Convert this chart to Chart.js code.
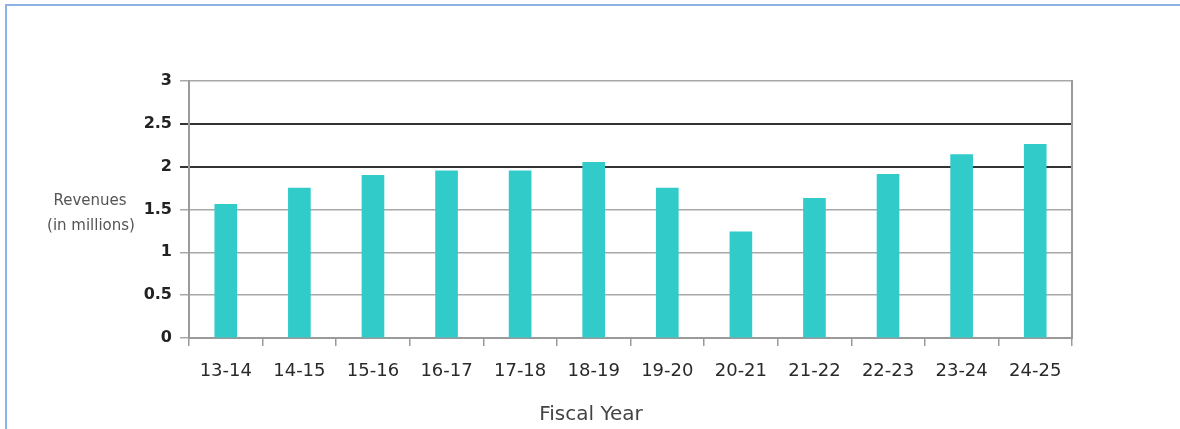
<!DOCTYPE html>
<html>
<head>
<meta charset="utf-8">
<script src="https://cdn.jsdelivr.net/npm/chart.js@4/dist/chart.umd.min.js"></script>
<style>
    body { margin: 0; background: #fff; }
    #wrap { position: relative; width: 1180px; height: 429px; overflow: hidden; }
    #frame {
        position: absolute; left: 5px; top: 4px; width: 1300px; height: 600px;
        border-top: 2px solid #8db3e2; border-left: 2px solid #8db3e2;
    }
    #revChart { position: absolute; left: 0; top: 0; }
</style>
</head>
<body>
<div id="wrap">
    <div id="frame"></div>
    <canvas id="revChart" width="1180" height="429"></canvas>
</div>
<script>
const fiscalYears = ["13-14", "14-15", "15-16", "16-17", "17-18", "18-19", "19-20", "20-21", "21-22", "22-23", "23-24", "24-25"];
const revenues = [1.56, 1.75, 1.90, 1.95, 1.95, 2.05, 1.75, 1.24, 1.63, 1.91, 2.14, 2.26];
const yTicks = [0, 0.5, 1, 1.5, 2, 2.5, 3];
const darkGridValues = [2, 2.5];

const fontFamily = "'DejaVu Sans', sans-serif";
const barColor = "#31cbca";
const axisGray = "#9a9a9a";

const axisTitles = {
    id: "axisTitles",
    afterDraw(chart) {
        const ctx = chart.ctx;
        ctx.save();
        ctx.textAlign = "center";
        ctx.textBaseline = "middle";
        ctx.fillStyle = "#555";
        ctx.font = "15px " + fontFamily;
        ctx.fillText("Revenues", 90, 201);
        ctx.fillText("(in millions)", 91, 226);
        ctx.fillStyle = "#444";
        ctx.font = "20px " + fontFamily;
        ctx.fillText("Fiscal Year", 591, 415);
        ctx.restore();
    },
};

new Chart(document.getElementById("revChart"), {
    type: "bar",
    data: {
        labels: fiscalYears,
        datasets: [
            {
                label: "Revenues",
                data: revenues,
                backgroundColor: barColor,
                barThickness: 22,
            },
        ],
    },
    options: {
        responsive: false,
        animation: false,
        layout: { padding: { top: 81, right: 0, bottom: 0, left: 0 } },
        plugins: {
            legend: { display: false },
            tooltip: { enabled: false },
        },
        scales: {
            x: {
                grid: {
                    drawOnChartArea: false,
                    drawTicks: true,
                    tickLength: 8,
                    color: axisGray,
                    lineWidth: 1.5,
                },
                border: { display: true, color: axisGray, width: 2 },
                ticks: {
                    color: "#2a2a2a",
                    font: { family: fontFamily, size: 18 },
                    padding: 15,
                    maxRotation: 0,
                },
                afterFit: (s) => { s.height = 91; },
            },
            y: {
                min: 0,
                max: 3,
                afterBuildTicks: (s) => { s.ticks = yTicks.map((v) => ({ value: v })); },
                grid: {
                    color: (c) => darkGridValues.includes(c.tick.value) ? "#333" : "#a8a8a8",
                    lineWidth: (c) => darkGridValues.includes(c.tick.value) ? 2 : 1.5,
                    tickLength: 9,
                },
                border: { display: true, color: axisGray, width: 2 },
                ticks: {
                    color: "#222",
                    font: { family: fontFamily, size: 16, weight: "bold" },
                    padding: 8,
                    callback: (v) => String(v),
                },
                afterFit: (s) => { s.width = 189; },
            },
            y2: {
                position: "right",
                min: 0,
                max: 3,
                grid: { display: false },
                border: { display: true, color: axisGray, width: 2 },
                ticks: { display: false },
                afterFit: (s) => { s.width = 108; },
            },
        },
    },
    plugins: [axisTitles],
});
</script>
</body>
</html>
